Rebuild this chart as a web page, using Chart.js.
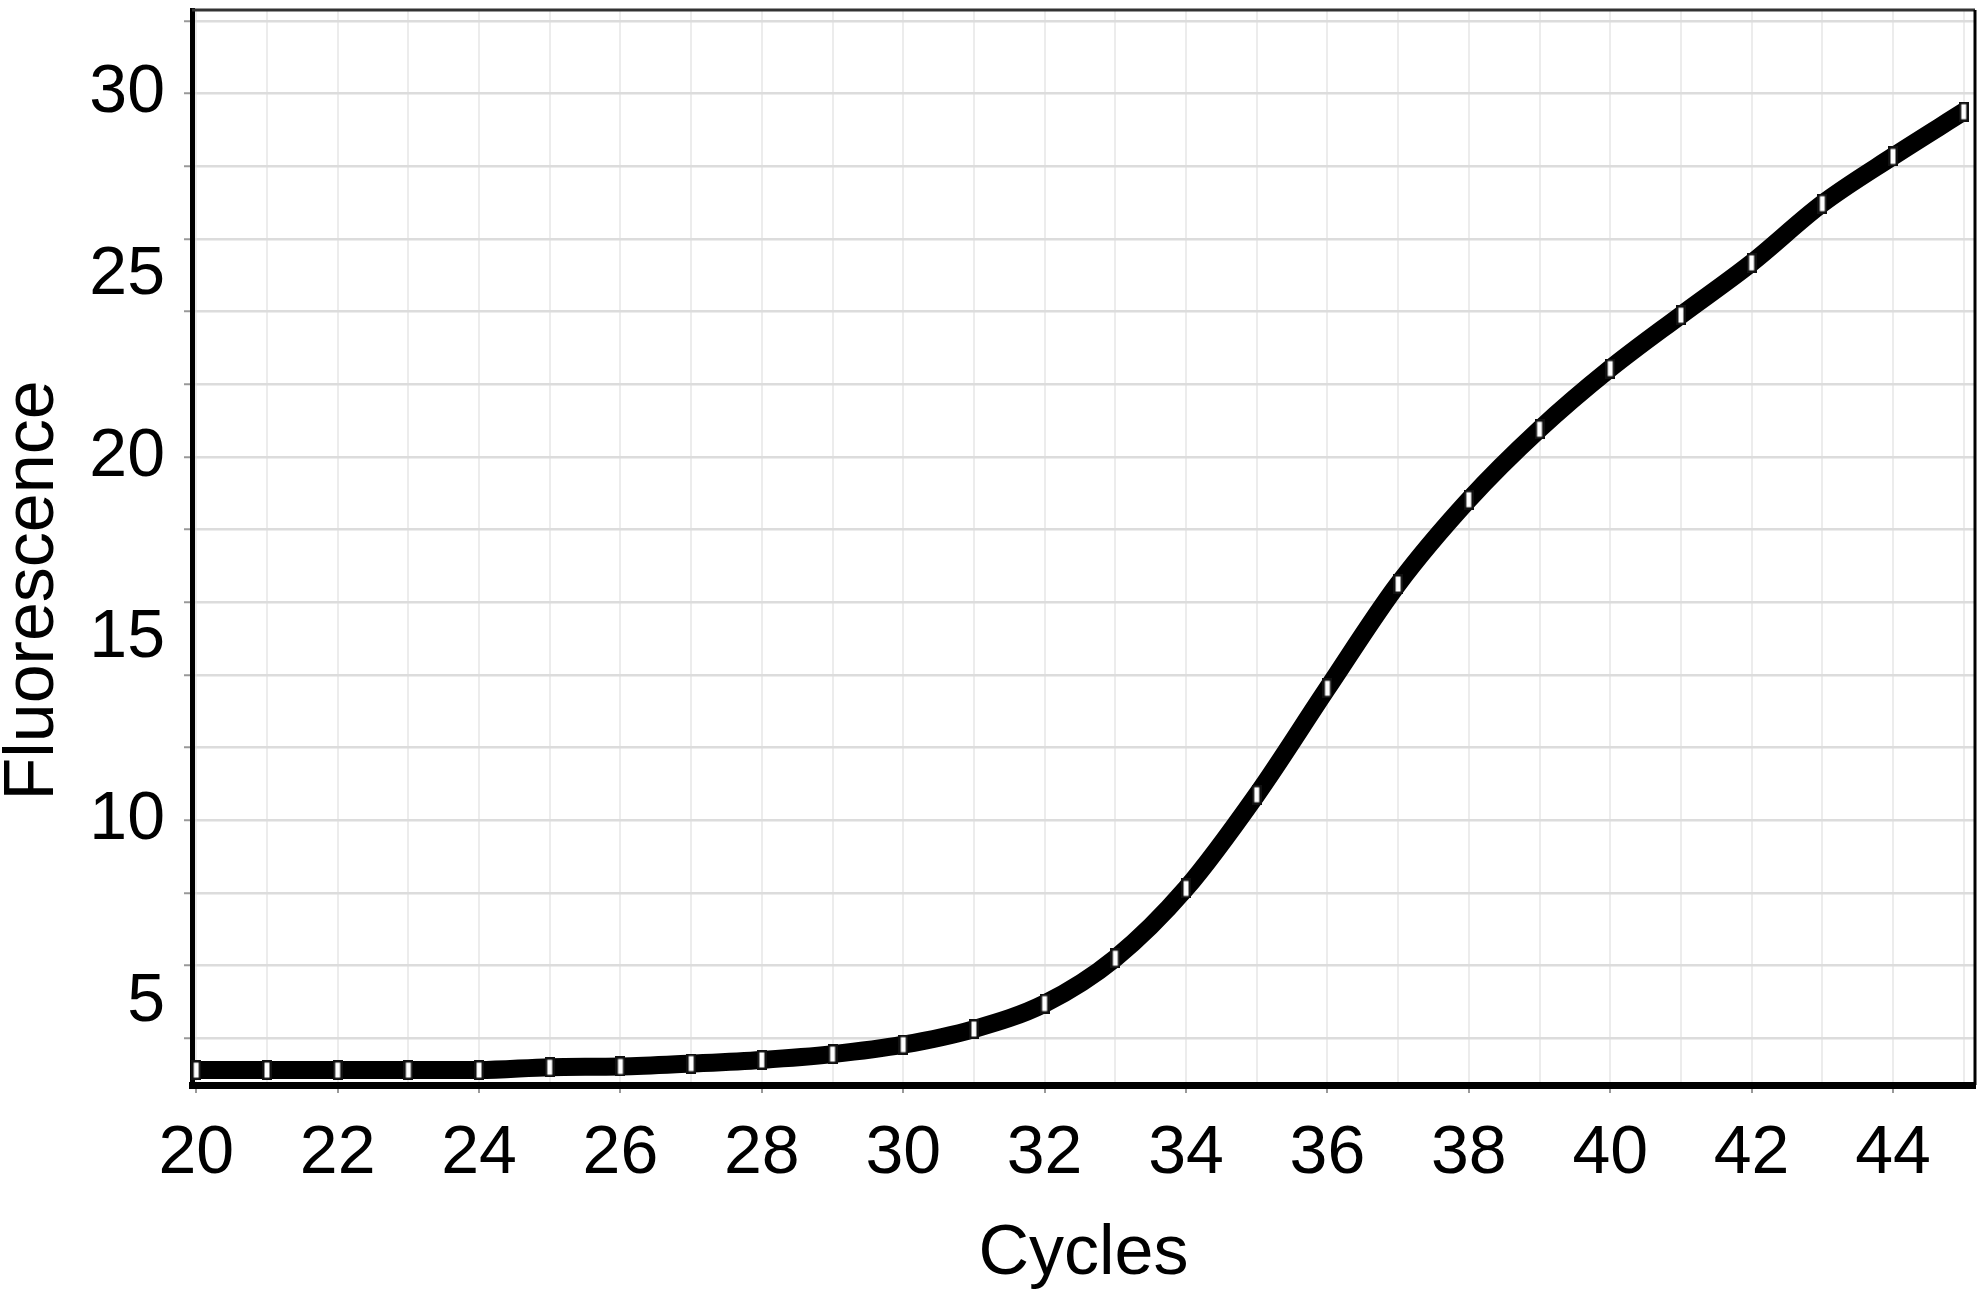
<!DOCTYPE html>
<html>
<head>
<meta charset="utf-8">
<script src="https://cdn.jsdelivr.net/npm/chart.js@4.4.1/dist/chart.umd.min.js"></script>
<style>
  html, body { margin: 0; padding: 0; background: #fff; }
  #wrap { width: 1983px; height: 1301px; }
</style>
</head>
<body>
<div id="wrap"><canvas id="c" width="1983" height="1301"></canvas></div>
<script>
// ---- data ----
const cycles = [20,21,22,23,24,25,26,27,28,29,30,31,32,33,34,35,36,37,38,39,40,41,42,43,44,45];
const fluorescence = [3.12,3.12,3.12,3.12,3.12,3.2,3.22,3.3,3.4,3.56,3.82,4.25,4.95,6.2,8.12,10.7,13.63,16.5,18.82,20.76,22.43,23.9,25.34,26.97,28.27,29.5];
const xLabelValues = [20,22,24,26,28,30,32,34,36,38,40,42,44];
const xGridValues = [20,21,22,23,24,25,26,27,28,29,30,31,32,33,34,35,36,37,38,39,40,41,42,43,44,45];
const yLabelValues = [5,10,15,20,25,30];
const yGridValues = [4,6,8,10,12,14,16,18,20,22,24,26,28,30,32];
const xTitle = 'Cycles';
const yTitle = 'Fluorescence';
const xRange = [19.94, 45.16];
const yRange = [2.71, 32.3];

// ---- marker style: small white rectangle ----
const marker = document.createElement('canvas');
marker.width = 10; marker.height = 20;
(function(){
  const m = marker.getContext('2d');
  m.fillStyle = '#111'; m.fillRect(0,0,10,20);
  m.fillStyle = '#fff'; m.fillRect(2.5,2.5,5,15);
})();

const FONT = "'Liberation Sans', Arial, sans-serif";

const frame = {
  id: 'frame',
  afterDatasetsDraw(chart) {
    const {ctx, chartArea: a} = chart;
    ctx.save();
    ctx.strokeStyle = '#333';
    ctx.lineWidth = 3;
    ctx.beginPath();
    ctx.moveTo(a.left, a.top); ctx.lineTo(a.right, a.top);
    ctx.stroke();
    ctx.strokeStyle = '#000';
    ctx.beginPath();
    ctx.moveTo(a.right, a.top); ctx.lineTo(a.right, a.bottom);
    ctx.stroke();
    ctx.restore();
  },
  afterDraw(chart) {
    const {ctx, chartArea: a} = chart;
    ctx.save();
    ctx.fillStyle = '#000';
    ctx.font = '70px ' + FONT;
    ctx.textAlign = 'center';
    ctx.textBaseline = 'middle';
    ctx.translate(34, (a.top + a.bottom) / 2 + 43);
    ctx.rotate(-Math.PI / 2);
    ctx.fillText(yTitle, 0, 0);
    ctx.restore();
  }
};

new Chart(document.getElementById('c'), {
  type: 'line',
  data: {
    datasets: [{
      data: cycles.map((c, i) => ({x: c, y: fluorescence[i]})),
      borderColor: '#000',
      borderWidth: 18,
      cubicInterpolationMode: 'monotone',
      pointStyle: marker,
      pointRadius: 8,
      fill: false,
      clip: false
    }]
  },
  options: {
    responsive: false,
    devicePixelRatio: 1,
    animation: false,
    layout: { autoPadding: false, padding: { top: 10, right: 8, left: 0, bottom: 0 } },
    plugins: { legend: { display: false }, tooltip: { enabled: false } },
    scales: {
      x: {
        type: 'linear',
        min: xRange[0], max: xRange[1],
        afterBuildTicks: s => { s.ticks = xGridValues.map(v => ({value: v})); },
        afterFit: s => { s.height = 216; s.paddingLeft = 0; s.paddingRight = 0; },
        ticks: {
          autoSkip: false, maxRotation: 0,
          color: '#000',
          font: { family: FONT, size: 68 },
          padding: 20,
          callback: v => xLabelValues.includes(v) ? String(v) : ''
        },
        grid: {
          color: '#ececec',
          lineWidth: 2,
          tickLength: 8,
          tickColor: ctx => (ctx.tick && xLabelValues.includes(ctx.tick.value)) ? '#999' : 'rgba(0,0,0,0)',
          tickWidth: 2
        },
        border: { display: true, color: '#000', width: 7 },
        title: {
          display: true, text: xTitle, color: '#000',
          font: { family: FONT, size: 70 },
          padding: { top: 0, bottom: 4 }
        }
      },
      y: {
        type: 'linear',
        min: yRange[0], max: yRange[1],
        afterBuildTicks: s => {
          const vals = Array.from(new Set(yGridValues.concat(yLabelValues))).sort((a,b)=>a-b);
          s.ticks = vals.map(v => ({value: v}));
        },
        afterFit: s => { s.width = 192; s.paddingTop = 0; s.paddingBottom = 0; },
        ticks: {
          autoSkip: false,
          color: '#000',
          font: { family: FONT, size: 68 },
          padding: 19,
          callback: v => yLabelValues.includes(v) ? String(v) : ''
        },
        grid: {
          color: ctx => (ctx.tick && yGridValues.includes(ctx.tick.value)) ? '#dcdcdc' : 'rgba(0,0,0,0)',
          lineWidth: 2.5,
          tickLength: 8,
          tickColor: ctx => (ctx.tick && yGridValues.includes(ctx.tick.value)) ? '#999' : 'rgba(0,0,0,0)',
          tickWidth: 2
        },
        border: { display: true, color: '#000', width: 5 }
      }
    }
  },
  plugins: [frame]
});
</script>
</body>
</html>
